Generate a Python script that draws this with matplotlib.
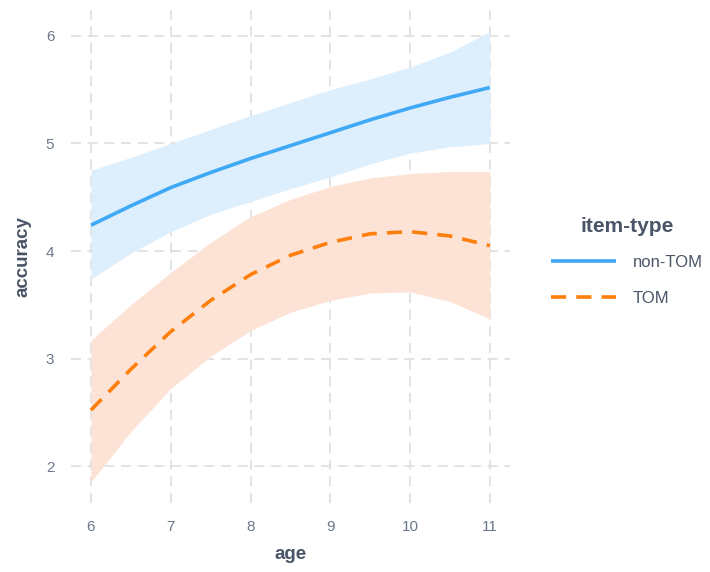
import matplotlib
matplotlib.use('Agg')
import matplotlib.pyplot as plt

# data (fitted curves with confidence bands)
age = [6, 6.5, 7, 7.5, 8, 8.5, 9, 9.5, 10, 10.5, 11]

nontom_fit = [4.24, 4.42, 4.59, 4.73, 4.86, 4.98, 5.10, 5.22, 5.33, 5.43, 5.52]
nontom_hi = [4.75, 4.87, 5.00, 5.13, 5.26, 5.38, 5.50, 5.60, 5.71, 5.85, 6.04]
nontom_lo = [3.74, 3.98, 4.18, 4.34, 4.46, 4.58, 4.69, 4.81, 4.91, 4.97, 5.00]

tom_fit = [2.52, 2.90, 3.25, 3.54, 3.78, 3.96, 4.08, 4.16, 4.18, 4.14, 4.05]
tom_hi = [3.17, 3.50, 3.80, 4.08, 4.32, 4.48, 4.60, 4.68, 4.72, 4.74, 4.74]
tom_lo = [1.85, 2.32, 2.72, 3.02, 3.26, 3.43, 3.54, 3.61, 3.62, 3.53, 3.37]

plt.rcParams['font.family'] = ['Liberation Sans', 'DejaVu Sans']

txt = '#4a5568'
tick_col = '#6b7789'
blue = '#3fa9f5'
orange = '#ff7f0e'

fig = plt.figure(figsize=(7.1, 5.72), dpi=100)
ax = fig.add_axes([0.1, 0.1206, 0.618, 0.862])

ax.fill_between(age, nontom_lo, nontom_hi, color='#ddeefc', lw=0)
ax.fill_between(age, tom_lo, tom_hi, color='#fde3d5', lw=0)
ax.plot(age, nontom_fit, color=blue, lw=2.6, label='non-TOM', solid_capstyle='butt')
ax.plot(age, tom_fit, color=orange, lw=2.6, dashes=(4.2, 2.8), label='TOM')

ax.set_xlim(5.75, 11.25)
ax.set_ylim(1.656, 6.242)
ax.set_xticks([6, 7, 8, 9, 10, 11])
ax.set_yticks([2, 3, 4, 5, 6])
ax.grid(True, color='#dedede', lw=1.2, dashes=(6, 4))
ax.set_axisbelow(True)
for s in ax.spines.values():
    s.set_visible(False)
ax.tick_params(length=0, labelsize=11, colors=tick_col, pad=12)

ax.set_xlabel('age', fontsize=13.5, fontweight='bold', color=txt, labelpad=9)
ax.set_ylabel('accuracy', fontsize=13.5, fontweight='bold', color=txt, labelpad=10)

leg = ax.legend(title='item-type', loc='center left', bbox_to_anchor=(1.06, 0.49),
                frameon=False, fontsize=12, title_fontproperties={'weight': 'bold', 'size': 15},
                handlelength=3.9, handletextpad=1.0, labelspacing=1.25)
leg.get_title().set_color(txt)
leg._legend_box.sep = 14
for t in leg.get_texts():
    t.set_color(txt)

fig.savefig('out.png', dpi=100)
